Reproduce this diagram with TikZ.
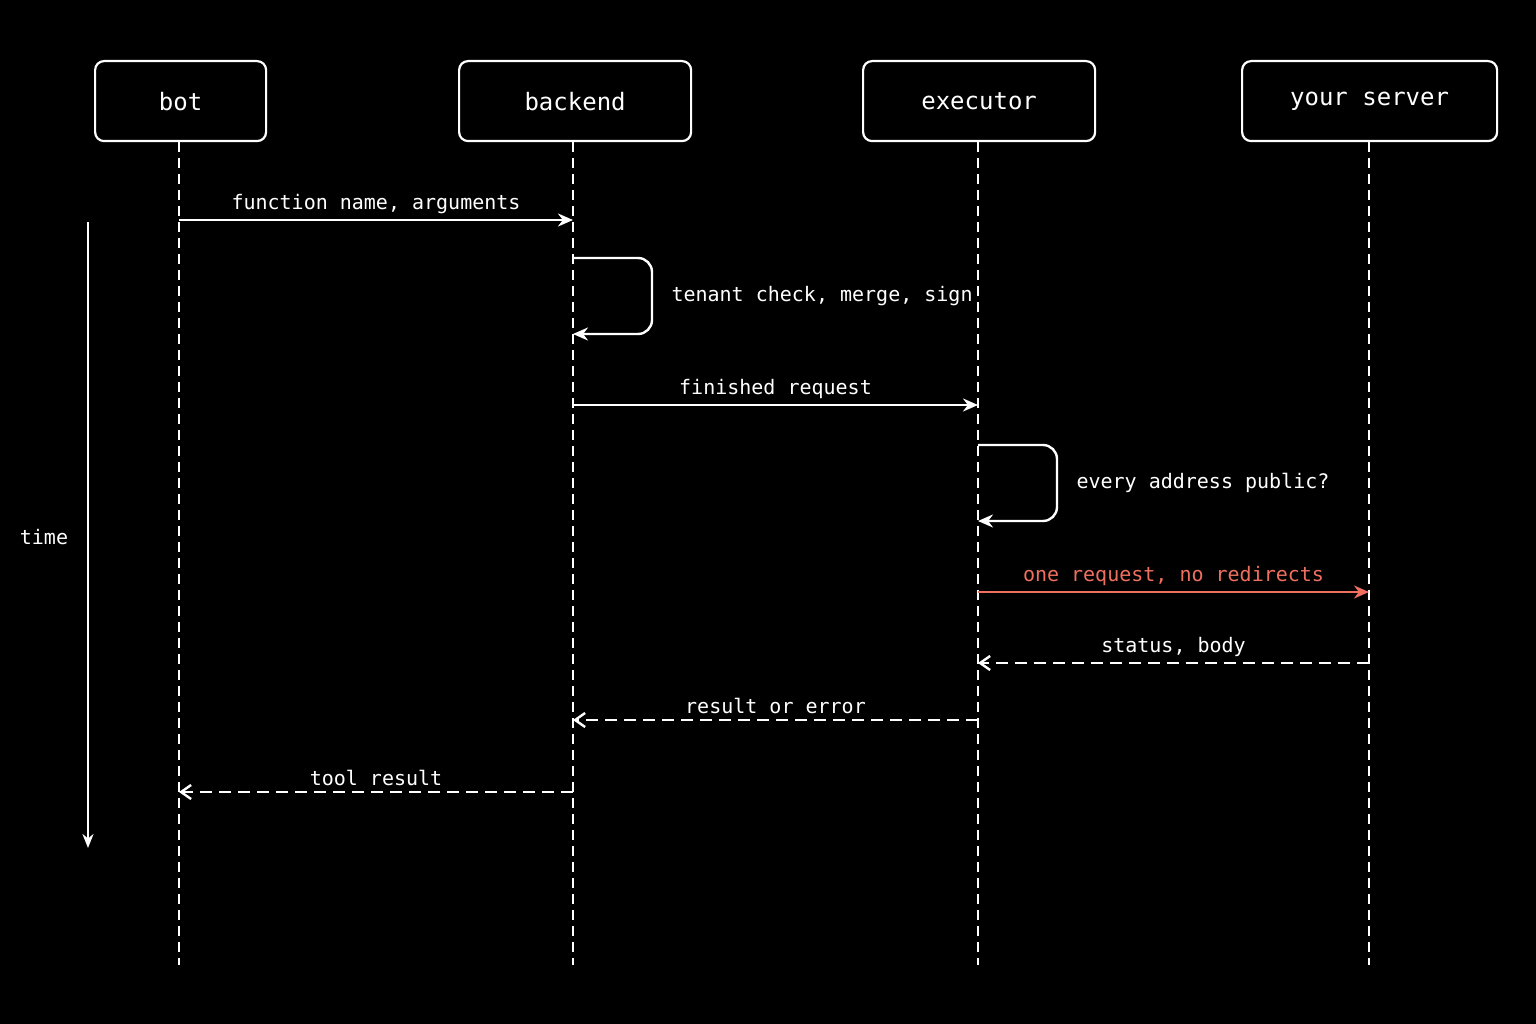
\documentclass[tikz,border=0pt]{standalone}
\usepackage{fontspec}
\setmainfont{DejaVu Sans Mono}
\usetikzlibrary{arrows.meta}
\definecolor{redc}{HTML}{F07060}
\begin{document}
\begin{tikzpicture}[x=1pt,y=-1pt,
  head/.style={draw=white,line width=2.2pt,rounded corners=9pt,text=white,font=\fontsize{24}{26}\selectfont,anchor=north west},
  life/.style={white,line width=2.2pt,dash pattern=on 10pt off 6pt},
  msg/.style={line width=2.4pt,-{Stealth[length=15pt,width=13pt]}},
  ret/.style={line width=2.4pt,dash pattern=on 12pt off 7pt,-{Straight Barb[length=10pt,width=14pt]}},
  lbl/.style={text=white,font=\fontsize{20}{22}\selectfont}]
\fill[black] (0,0) rectangle (1536,1024);
\node[head,minimum width=171pt,minimum height=80pt] (bot) at (94,60) {bot};
\node[head,minimum width=232pt,minimum height=80pt] (be) at (458,60) {backend};
\node[head,minimum width=232pt,minimum height=80pt] (ex) at (862,60) {executor};
\node[head,minimum width=255pt,minimum height=80pt] (ys) at (1241,60) {your server};
\foreach \n/\x in {bot/179,be/573,ex/978,ys/1369}{
  \coordinate (\n e) at (\x,965);
  \draw[life] (\n.south -| \n e) -- (\n e);
  \foreach \y in {220,258,334,405,445,521,592,663,720,792}{\coordinate (\n\y) at (\x,\y);}
}
\draw[msg,white] (bot220) -- node[lbl,above=2pt] {function name, arguments} (be220);
\draw[white,line width=2.4pt,rounded corners=14pt,-{Stealth[length=15pt,width=13pt]}] (be258) -- ++(79,0) |- (be334);
\node[lbl,anchor=west] (l1) at (668,296) {tenant check, merge, sign};
\draw[msg,white] (be405) -- node[lbl,above=2pt] {finished request} (ex405);
\draw[white,line width=2.4pt,rounded corners=14pt,-{Stealth[length=15pt,width=13pt]}] (ex445) -- ++(79,0) |- (ex521);
\node[lbl,anchor=west] (l2) at (1073,483) {every address public?};
\draw[msg,redc] (ex592) -- node[lbl,text=redc,above=2pt] {one request, no redirects} (ys592);
\draw[ret,white] (ys663) -- node[lbl,above=2pt] {status, body} (ex663);
\draw[ret,white] (ex720) -- node[lbl,above=2pt] {result or error} (be720);
\draw[ret,white] (be792) -- node[lbl,above=2pt] {tool result} (bot792);
\coordinate (t0) at (88,222); \coordinate (t1) at (88,848);
\draw[white,line width=2pt,-{Stealth[length=14pt,width=11pt]}] (t0) -- (t1);
\node[lbl] (time) at (44,537) {time};
\end{tikzpicture}
\end{document}
